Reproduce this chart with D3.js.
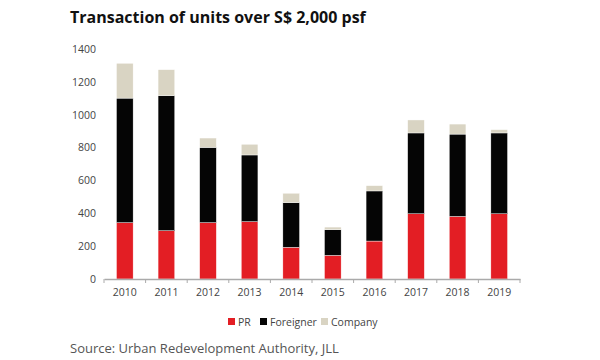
<!DOCTYPE html>
<html>
<head>
<meta charset="utf-8">
<script src="https://cdn.jsdelivr.net/npm/d3@7"></script>
<style>
  body { margin: 0; background: #fff; }
  text { font-family: "Open Sans", "Noto Sans", sans-serif; }
</style>
</head>
<body>
<div id="chart"></div>
<script>
// data
var years = ["2010", "2011", "2012", "2013", "2014", "2015", "2016", "2017", "2018", "2019"];
var pr = [343, 294, 343, 349, 193, 144, 231, 397, 381, 397];
var foreigner = [758, 822, 458, 406, 272, 156, 305, 492, 501, 492];
var company = [212, 158, 57, 65, 57, 16, 32, 79, 61, 20];
var seriesNames = ["PR", "Foreigner", "Company"];
var seriesColors = ["#e31e24", "#050505", "#d9d4c3"];
var yTicks = [0, 200, 400, 600, 800, 1000, 1200, 1400];

var W = 600, H = 360;
var margin = {top: 49, right: 80, bottom: 81, left: 104},
    width = W - margin.left - margin.right,
    height = H - margin.top - margin.bottom;

var svg = d3.select("#chart")
    .append("svg")
    .attr("width", W)
    .attr("height", H);

// title
svg.append("text")
    .attr("x", 70)
    .attr("y", 23)
    .attr("font-size", 16)
    .attr("font-weight", 700)
    .attr("fill", "#111")
    .text("Transaction of units over S$ 2,000 psf");

var g = svg.append("g")
    .attr("transform", "translate(" + margin.left + "," + margin.top + ")");

var table = years.map(function(y, i) {
    return {year: y, PR: pr[i], Foreigner: foreigner[i], Company: company[i]};
});

var x = d3.scaleBand()
    .domain(years)
    .range([0, width])
    .paddingInner(0.6)
    .paddingOuter(0.3);

var y = d3.scaleLinear()
    .domain([0, 1400])
    .range([height, 0]);

var stack = d3.stack().keys(seriesNames)(table);

// y axis labels only
var yAxis = g.append("g")
    .call(d3.axisLeft(y).tickValues(yTicks).tickFormat(d3.format("d")).tickSize(0).tickPadding(8));
yAxis.select(".domain").remove();
yAxis.selectAll("text")
    .attr("font-size", 10.5)
    .attr("fill", "#444")
    .style("font-family", "'Open Sans', sans-serif");

// bars
g.selectAll(".series")
    .data(stack)
    .enter().append("g")
    .attr("fill", function(d, i) { return seriesColors[i]; })
    .selectAll("rect")
    .data(function(d) { return d; })
    .enter().append("rect")
    .attr("x", function(d) { return x(d.data.year); })
    .attr("y", function(d) { return y(d[1]); })
    .attr("width", x.bandwidth())
    .attr("height", function(d) { return y(d[0]) - y(d[1]); })
    .attr("stroke", "#fff")
    .attr("stroke-width", 0.4);

// x axis with ticks at band edges
var xAxis = g.append("g")
    .attr("transform", "translate(0," + height + ")")
    .call(d3.axisBottom(x).tickSize(0).tickPadding(10));
xAxis.select(".domain").attr("stroke", "#aaa").attr("stroke-width", 1.5);
xAxis.selectAll("text")
    .attr("font-size", 10.5)
    .attr("fill", "#444")
    .style("font-family", "'Open Sans', sans-serif");

var edges = years.map(function(d) { return x(d) - x.step() * x.paddingInner() / 2; });
edges.push(width);
g.selectAll(".edge")
    .data(edges)
    .enter().append("line")
    .attr("x1", function(d) { return d; })
    .attr("x2", function(d) { return d; })
    .attr("y1", height)
    .attr("y2", height + 4)
    .attr("stroke", "#aaa")
    .attr("stroke-width", 1);

// legend
var legendX = [228, 260, 321];
var legend = svg.selectAll(".legend")
    .data(seriesNames)
    .enter().append("g")
    .attr("transform", function(d, i) { return "translate(" + legendX[i] + ",318)"; });
legend.append("rect")
    .attr("width", 7)
    .attr("height", 7)
    .attr("fill", function(d, i) { return seriesColors[i]; });
legend.append("text")
    .attr("x", 10)
    .attr("y", 7.5)
    .attr("font-size", 10.5)
    .attr("fill", "#444")
    .text(function(d) { return d; });

// source
svg.append("text")
    .attr("x", 70)
    .attr("y", 353)
    .attr("font-size", 13)
    .attr("fill", "#555")
    .text("Source: Urban Redevelopment Authority, JLL");
</script>
</body>
</html>
